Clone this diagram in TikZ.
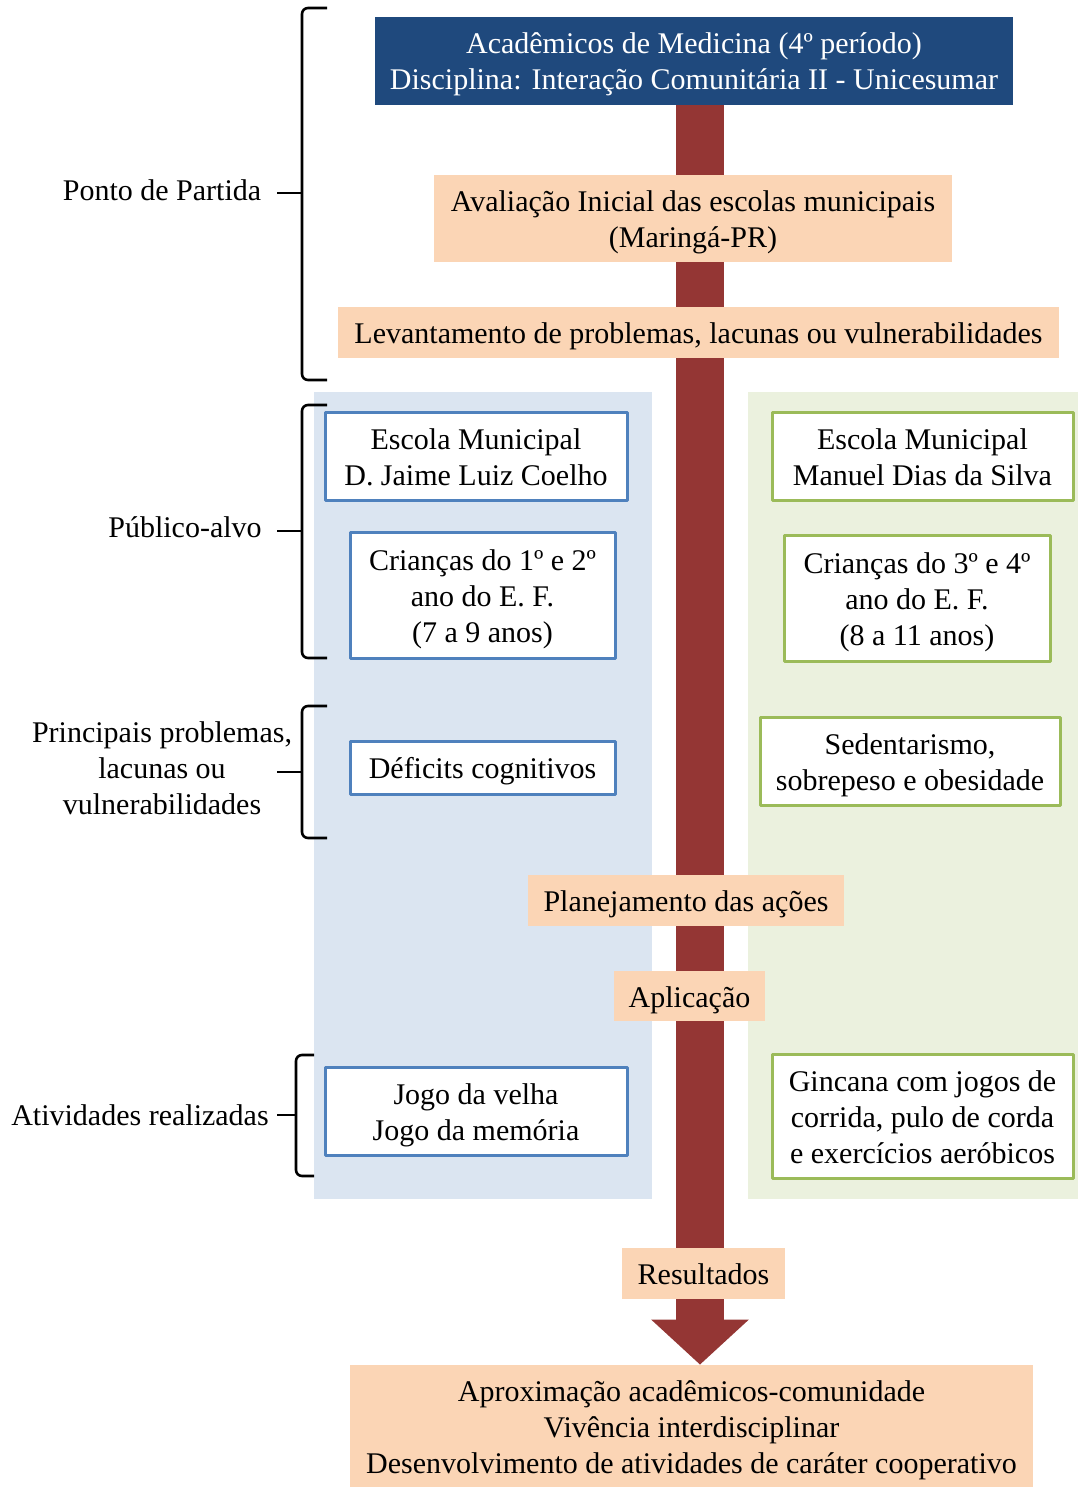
\documentclass[tikz,border=0pt]{standalone}
\usepackage{fontspec}
\setmainfont{Liberation Serif}
\usetikzlibrary{arrows.meta,backgrounds}
\definecolor{navy}{HTML}{1F497D}
\definecolor{arrowred}{HTML}{943634}
\definecolor{peach}{HTML}{FBD5B5}
\definecolor{bluebg}{HTML}{DBE5F1}
\definecolor{greenbg}{HTML}{EBF1DE}
\definecolor{blueline}{HTML}{4F81BD}
\definecolor{greenline}{HTML}{9BBB59}
\newcommand{\tallline}{\rule{0pt}{15.5pt}}
\tikzset{
  base/.style={align=center,inner sep=0pt,font=\fontsize{15}{18}\selectfont},
  boxtext/.style={base,execute at begin node={\tallline},execute at end node={\rule[-4.5pt]{0pt}{0pt}}},
  navybox/.style={boxtext,fill=navy,text=white},
  peachbox/.style={boxtext,fill=peach},
  bluebox/.style={boxtext,draw=blueline,line width=1.5pt,fill=white},
  greenbox/.style={boxtext,draw=greenline,line width=1.5pt,fill=white},
  sidelabel/.style={base},
  bracket/.style={line width=1.3pt,rounded corners=3pt}
}
\begin{document}
\begin{tikzpicture}[x=0.5pt,y=-0.5pt,line join=round]
\useasboundingbox (0,0) rectangle (1078,1487);
% columns
\fill[bluebg] (314,392) rectangle (652,1199);
\fill[greenbg] (748,392) rectangle (1078,1199);
% main steps
\node[navybox,minimum width=319pt,minimum height=44pt] (top) at (694,61) {\tallline Acadêmicos de Medicina (4º período)\\Disciplina: Interação Comunitária II - Unicesumar};
\node[peachbox,minimum width=259pt,minimum height=43.5pt] (aval) at (693,218.5) {\tallline Avaliação Inicial das escolas municipais\\(Maringá-PR)};
\node[peachbox,minimum width=360.5pt,minimum height=25.5pt] (lev) at (698.5,332.5) {Levantamento de problemas, lacunas ou vulnerabilidades};
\node[peachbox,minimum width=158pt,minimum height=25.5pt] (plan) at (686,900.5) {Planejamento das ações};
\node[peachbox,minimum width=75.5pt,minimum height=25pt] (apl) at (689.5,996) {Aplicação};
\node[peachbox,minimum width=81.5pt,minimum height=25.5pt] (res) at (703.5,1273.5) {Resultados};
\node[peachbox,minimum width=341.5pt,minimum height=61pt] (final) at (691.5,1426) {\tallline Aproximação acadêmicos-comunidade\\Vivência interdisciplinar\\Desenvolvimento de atividades de caráter cooperativo};
% left school
\node[bluebox,minimum width=151pt,minimum height=44pt] (escA) at (476,456) {\tallline Escola Municipal\\D. Jaime Luiz Coelho};
\node[bluebox,minimum width=132.5pt,minimum height=63pt] (criA) at (482.5,595) {\tallline Crianças do 1º e 2º\\ano do E. F.\\(7 a 9 anos)};
\node[bluebox,minimum width=132.5pt,minimum height=26.5pt] (defA) at (482.5,767.5) {Déficits cognitivos};
\node[bluebox,minimum width=151pt,minimum height=44pt] (jogA) at (476,1111) {\tallline Jogo da velha\\Jogo da memória};
% right school
\node[greenbox,minimum width=150.5pt,minimum height=44pt] (escB) at (922.5,456) {\tallline Escola Municipal\\Manuel Dias da Silva};
\node[greenbox,minimum width=133pt,minimum height=63pt] (criB) at (917,598) {\tallline Crianças do 3º e 4º\\ano do E. F.\\(8 a 11 anos)};
\node[greenbox,minimum width=150pt,minimum height=44pt] (sedB) at (910,761) {\tallline Sedentarismo,\\sobrepeso e obesidade};
\node[greenbox,minimum width=150.5pt,minimum height=62pt] (ginB) at (922.5,1116) {\tallline Gincana com jogos de\\corrida, pulo de corda\\e exercícios aeróbicos};
% big arrow
\coordinate (ax) at (700,0);
\begin{pgfonlayer}{background}
\draw[arrowred,line width=24pt,-{Triangle[width=47.5pt,length=22.5pt]}] (top.south -| ax) -- (final.north -| ax);
\end{pgfonlayer}
% side labels
\node[sidelabel] (lblPonto) at (162,190) {Ponto de Partida};
\node[sidelabel] (lblPublico) at (185,527) {Público-alvo};
\node[sidelabel] (lblProb) at (162,768) {Principais problemas,\\lacunas ou\\vulnerabilidades};
\node[sidelabel] (lblAtiv) at (140,1115) {Atividades realizadas};
% brackets
\draw[bracket] (327,8) -- (302,8) -- (302,380) -- (327,380);
\draw[line width=1.3pt] (277,193) -- (302,193);
\draw[bracket] (327,405) -- (302,405) -- (302,658) -- (327,658);
\draw[line width=1.3pt] (277,531) -- (302,531);
\draw[bracket] (327,706) -- (302,706) -- (302,838) -- (327,838);
\draw[line width=1.3pt] (277,772) -- (302,772);
\draw[bracket] (314,1055) -- (296,1055) -- (296,1176) -- (314,1176);
\draw[line width=1.3pt] (277,1115) -- (296,1115);
\end{tikzpicture}
\end{document}
